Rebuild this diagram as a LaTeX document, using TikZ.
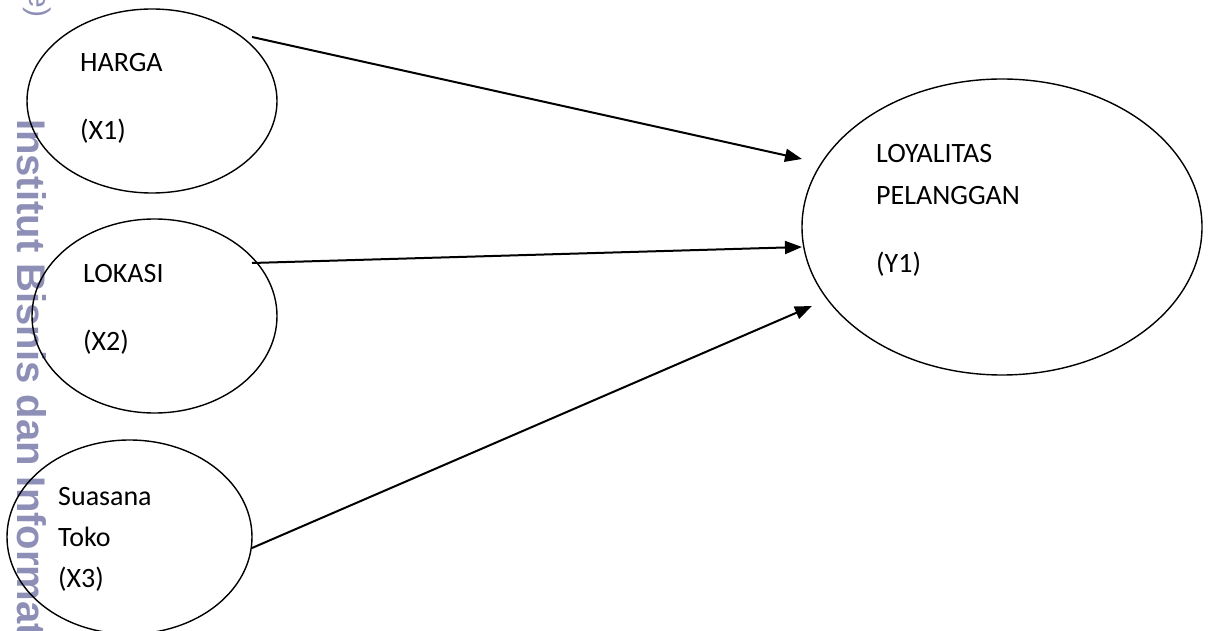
\documentclass[tikz,border=0pt]{standalone}
\usepackage{fontspec}
\setmainfont{Carlito}
\newfontfamily\wmfont{Liberation Sans}
\newfontfamily\wmbold[UprightFont={* Bold}]{Liberation Sans}
\usetikzlibrary{shapes.geometric,arrows.meta,calc}
\definecolor{wmcol}{RGB}{142,143,182}
\begin{document}
\begin{tikzpicture}[x=1pt,y=-1pt,
  var/.style={draw,ellipse,line width=1.4pt,inner sep=0pt},
  lbl/.style={anchor=base west,inner sep=0pt,font=\fontsize{28}{33}\selectfont},
  conn/.style={line width=2pt,-{Triangle[length=17pt,width=13pt]}},
  wm/.style={text=wmcol,rotate=-90,inner sep=0pt}]
\fill[white] (0,0) rectangle (1211,631);
\useasboundingbox (0,0) rectangle (1211,631);
% watermark
\node[wm,anchor=base west,font=\wmbold\fontsize{40}{40}\selectfont] (wm1) at (17,119) {Institut Bisnis dan Informat};
\node[wm,anchor=base east,font=\wmfont\fontsize{30}{30}\selectfont] (wm2) at (29,18) {e)};
% ellipses
\node[var,minimum width=250pt,minimum height=184pt] (h) at (152,101) {};
\node[var,minimum width=245pt,minimum height=194pt] (l) at (154.5,316) {};
\node[var,minimum width=245pt,minimum height=194pt] (s) at (129.5,537) {};
\node[var,minimum width=400pt,minimum height=296pt] (y) at (1002,227) {};
% labels
\node[lbl] (h1) at (80,72) {HARGA};
\node[lbl] (h2) at (80,140) {(X1)};
\node[lbl] (l1) at (83,283) {LOKASI};
\node[lbl] (l2) at (83,350) {(X2)};
\node[lbl] (s1) at (58,505) {Suasana};
\node[lbl] (s2) at (58,546) {Toko};
\node[lbl] (s3) at (58,587) {(X3)};
\node[lbl] (y1) at (876,163) {LOYALITAS};
\node[lbl] (y2) at (876,205) {PELANGGAN};
\node[lbl] (y3) at (876,273) {(Y1)};
% connectors
\draw[conn] ($(h.center)+(100,-64)$) -- ($(y.center)+(-200,-68)$);
\draw[conn] ($(l.center)+(97.5,-53)$) -- ($(y.center)+(-200,20)$);
\draw[conn] ($(s.center)+(122.5,11)$) -- ($(y.center)+(-190,79)$);
\end{tikzpicture}
\end{document}
